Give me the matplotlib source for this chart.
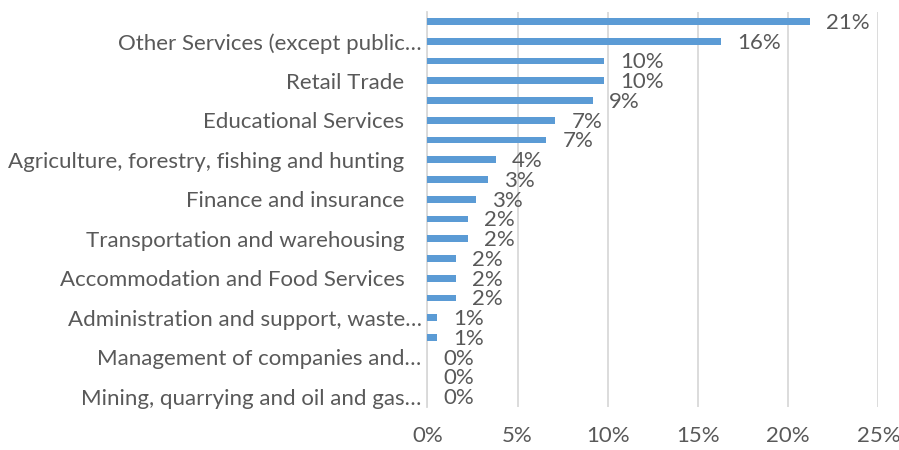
import numpy as np
import matplotlib
matplotlib.use("Agg")
import matplotlib.pyplot as plt

# category labels (Excel only printed every second one)
categories = [
    "",
    "Other Services (except public\u2026",
    "",
    "Retail Trade   ",
    "",
    "Educational Services   ",
    "",
    "Agriculture, forestry, fishing and hunting   ",
    "",
    "Finance and insurance   ",
    "",
    "Transportation and warehousing   ",
    "",
    "Accommodation and Food Services   ",
    "",
    "Administration and support, waste\u2026",
    "",
    "Management of companies and\u2026",
    "",
    "Mining, quarrying and oil and gas\u2026",
]
shares = [21.2, 16.3, 9.8, 9.8, 9.2, 7.1, 6.6, 3.8, 3.35, 2.7,
          2.25, 2.25, 1.6, 1.6, 1.6, 0.55, 0.55, 0.0, 0.0, 0.0]
xticks = [0, 5, 10, 15, 20, 25]

plt.rcParams["font.family"] = ["Lato", "DejaVu Sans"]
grey = "#595959"

fig = plt.figure(figsize=(8.99, 4.5), dpi=100)
ax = fig.add_axes([0.4753, 0.0962, 0.5017, 0.8778])

y = np.arange(len(shares))
ax.barh(y, shares, height=0.34, color="#5B9BD5", zorder=3)

for yi, v in zip(y, shares):
    ax.annotate(f"{v:.0f}%", xy=(v, yi), xytext=(11.5, -1),
                textcoords="offset points", ha="left", va="center",
                fontsize=16, color=grey, zorder=4)

ax.set_ylim(len(shares) - 0.5, -0.5)
ax.set_yticks(y)
ax.set_yticklabels(categories)
ax.set_xlim(0, 25)
ax.set_xticks(xticks)
ax.set_xticklabels([f"{t}%" for t in xticks])

ax.tick_params(axis="y", length=0, pad=4, labelsize=16, labelcolor=grey)
ax.tick_params(axis="x", length=0, pad=14, labelsize=16, labelcolor=grey)

ax.grid(axis="x", color="#D9D9D9", linewidth=1.3, zorder=0)
for s in ["top", "right", "bottom"]:
    ax.spines[s].set_visible(False)
ax.spines["left"].set_color("#D9D9D9")
ax.spines["left"].set_linewidth(1.3)

fig.savefig("out.png", dpi=100)
